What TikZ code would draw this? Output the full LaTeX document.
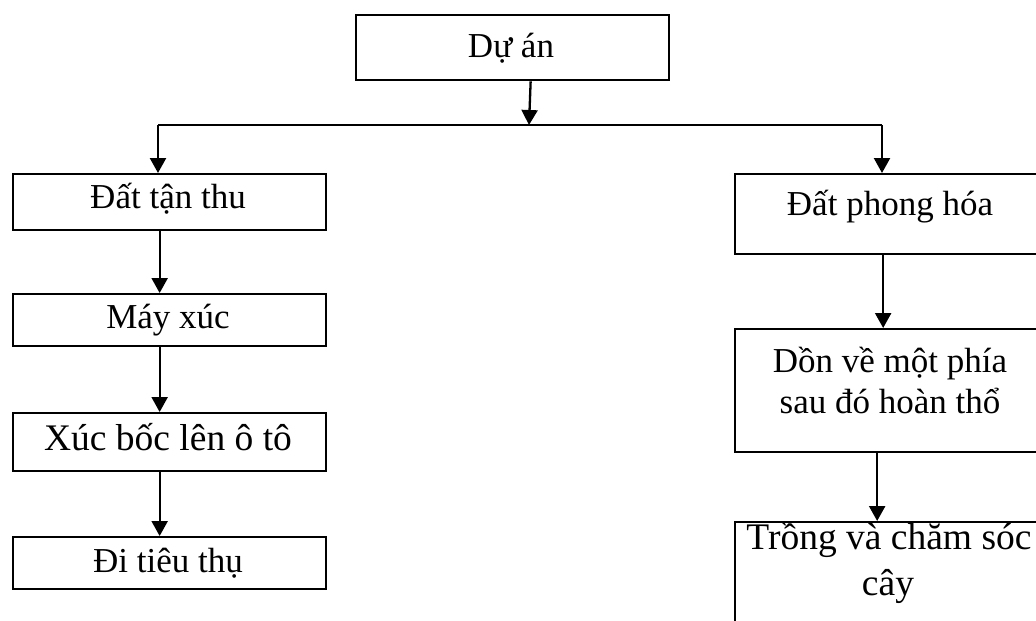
\documentclass[tikz,border=0pt]{standalone}
\usepackage{fontspec}
\setmainfont{Liberation Serif}
\usetikzlibrary{arrows.meta}
\begin{document}
\begin{tikzpicture}[x=1pt,y=-1pt,
  box/.style={draw,line width=2.3pt,rectangle,inner sep=0pt,anchor=north west},
  lbl/.style={anchor=base,inner sep=0pt,font=\fontsize{35}{41}\selectfont},
  big/.style={font=\fontsize{37.5}{44}\selectfont},
  arr/.style={line width=2.3pt,-{Triangle[length=15pt,width=16pt]}},
  ln/.style={line width=2.3pt}]
\useasboundingbox (0,0) rectangle (1036,621);
\clip (0,0) rectangle (1036,621);

% boxes
\node[box,minimum width=313pt,minimum height=65pt] (duan) at (355,14) {};
\node[box,minimum width=313pt,minimum height=56pt] (datantu) at (12,173) {};
\node[box,minimum width=313pt,minimum height=52pt] (mayxuc) at (12,293) {};
\node[box,minimum width=313pt,minimum height=58pt] (xucboc) at (12,412) {};
\node[box,minimum width=313pt,minimum height=52pt] (ditieu) at (12,536) {};
\node[box,minimum width=312pt,minimum height=80pt] (phonghoa) at (734,173) {};
\node[box,minimum width=312pt,minimum height=123pt] (donve) at (734,328) {};
\node[box,minimum width=312pt,minimum height=130pt] (trong) at (734,521) {};

% texts
\node[lbl] (t1) at (511,57) {Dự án};
\node[lbl] (t2) at (168,208) {Đất tận thu};
\node[lbl] (t3) at (168,328) {Máy xúc};
\node[lbl,big] (t4) at (168,450) {Xúc bốc lên ô tô};
\node[lbl] (t5) at (168,572) {Đi tiêu thụ};
\node[lbl] (t6) at (890,215) {Đất phong hóa};
\node[lbl] (t7) at (890,372) {Dồn về một phía};
\node[lbl] (t8) at (890,413) {sau đó hoàn thổ};
\node[lbl,big] (t9) at (889,549) {Trồng và chăm sóc};
\node[lbl,big] (t10) at (888,595) {cây};

% connectors
\coordinate (jl) at (158,125);
\coordinate (jm) at (529,125);
\coordinate (jr) at (882,125);
\draw[ln] (jl) -- (jr);
\draw[arr] ([xshift=18pt]duan.south) -- (jm);
\draw[arr] (jl) -- (jl |- datantu.north);
\draw[arr] (jr) -- (jr |- phonghoa.north);
\draw[arr] ([xshift=-10pt]datantu.south) -- ([xshift=-10pt]mayxuc.north);
\draw[arr] ([xshift=-10pt]mayxuc.south) -- ([xshift=-10pt]xucboc.north);
\draw[arr] ([xshift=-10pt]xucboc.south) -- ([xshift=-10pt]ditieu.north);
\draw[arr] ([xshift=-8pt]phonghoa.south) -- ([xshift=-8pt]donve.north);
\draw[arr] ([xshift=-14pt]donve.south) -- ([xshift=-14pt]trong.north);
\end{tikzpicture}
\end{document}
